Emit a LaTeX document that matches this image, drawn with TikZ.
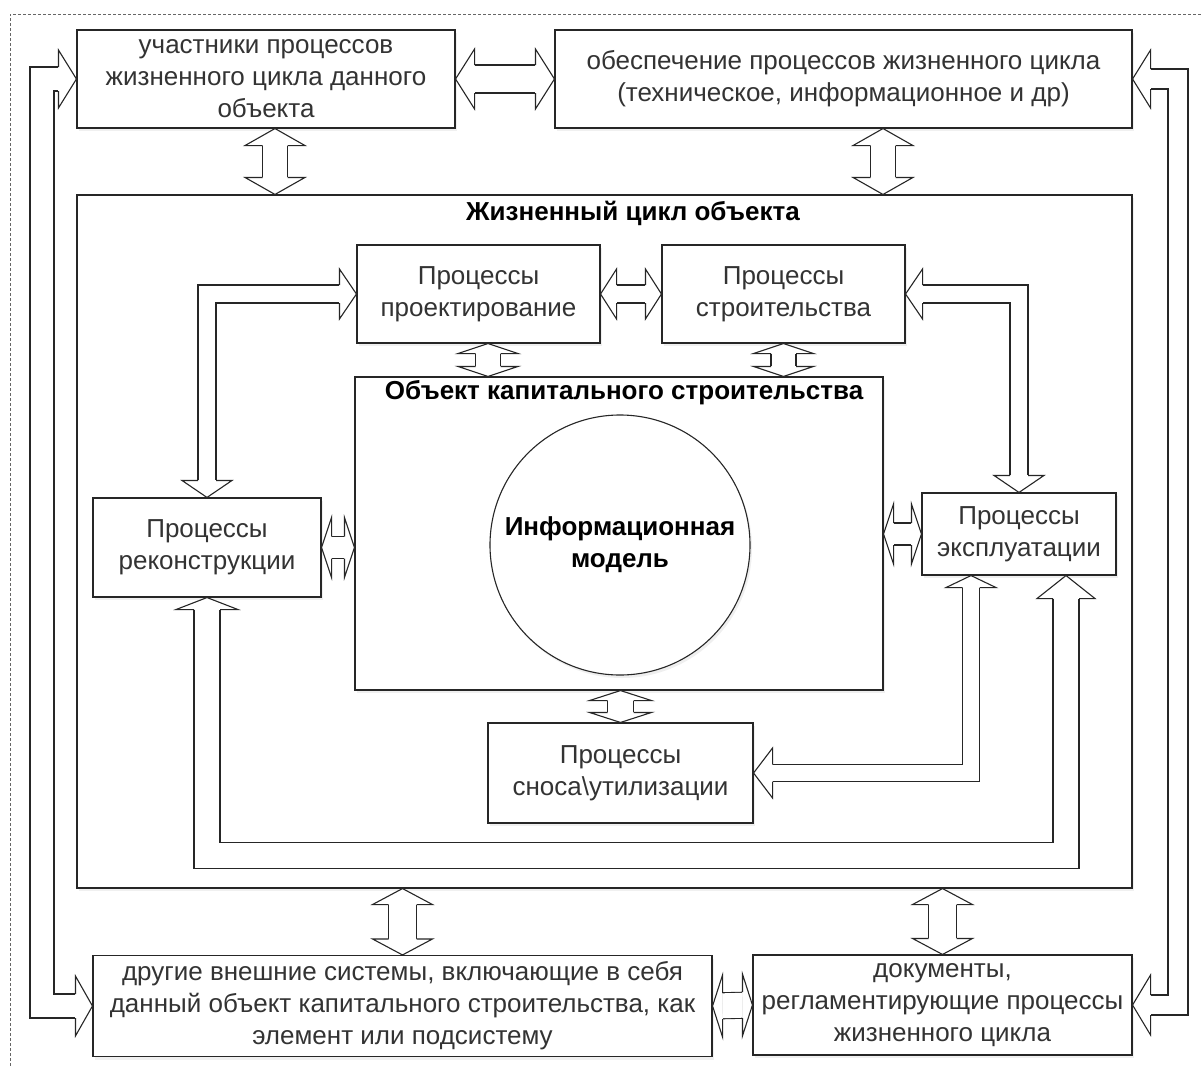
\documentclass[tikz,border=0pt]{standalone}
\usepackage{fontspec}
\setmainfont{Liberation Sans}
\usetikzlibrary{calc,shadows}
\newcommand{\lcfont}{\linespread{1}\fontsize{26}{32}\selectfont}
\tikzset{
    lc/chart/.style={x=1pt, y=-1pt, font=\lcfont, every node/.style={align=center, text=black!80}},
    lc/box/.style={rectangle, draw=black!85, fill=white, line width=1.1pt, inner sep=2pt, drop shadow={opacity=0.12, shadow xshift=2pt, shadow yshift=-3pt}},
    lc/model/.style={lc/box, circle, minimum size=260pt, font=\lcfont\bfseries, text=black},
    lc/title/.style={font=\lcfont\bfseries, text=black, inner sep=0pt},
    lc/border/.style={draw=black!60, line width=0.8pt, dash pattern=on 3pt off 2pt},
    lc/outline/.style={draw=black!85, line width=1.1pt, line join=miter},
    lc/shaft/.style={line width=1.1pt, draw=black!85, double=white, double distance=#1}
}
% hollow arrow head: tip, direction, shaft half-width, head half-width, head length
\newcommand{\lchead}[5]{%
    \begin{scope}[shift={#1}, rotate=#2]
        \fill[white] (-#5,-#4) -- (0,0) -- (-#5,#4) -- cycle;
        \draw[lc/outline] (-#5,-#3) -- (-#5,-#4) -- (0,0) -- (-#5,#4) -- (-#5,#3);
    \end{scope}}
% straight two-headed hollow arrow
\newcommand{\lcdouble}[6]{%
    \pgfmathsetmacro{\lcgap}{2*#4-1.1}
    \draw[lc/shaft=\lcgap pt] ($#1!#6pt!#2$) -- ($#2!#6pt!#1$);
    \lchead{#2}{#3}{#4}{#5}{#6}
    \lchead{#1}{#3+180}{#4}{#5}{#6}}

\begin{document}
\begin{tikzpicture}[lc/chart]
    \useasboundingbox (0,0) rectangle (1203,1066);
    \draw[lc/border] (10,1066) |- (1203,14);

    % outer level
    \node[lc/box, minimum width=378pt, minimum height=98pt] (part) at (266,79) {участники процессов\\жизненного цикла данного\\объекта};
    \node[lc/box, minimum width=577pt, minimum height=98pt] (supp) at (843.5,79) {обеспечение процессов жизненного цикла\\(техническое, информационное и др)};
    \node[lc/box, minimum width=1055pt, minimum height=693pt] (life) at (604.5,541.5) {};
    \node[lc/title] (lifetitle) at (633,213) {Жизненный цикл объекта};
    \node[lc/box, minimum width=619pt, minimum height=101pt] (other) at (402.5,1006) {другие внешние системы, включающие в себя\\данный объект капитального строительства, как\\элемент или подсистему};
    \node[lc/box, minimum width=379pt, minimum height=100pt] (docs) at (942.5,1005) {документы,\\регламентирующие процессы\\жизненного цикла};

    % life cycle stages
    \node[lc/box, minimum width=243pt, minimum height=98pt] (proj) at (478.5,294) {Процессы\\проектирование};
    \node[lc/box, minimum width=243pt, minimum height=98pt] (stroy) at (783.5,294) {Процессы\\строительства};
    \node[lc/box, minimum width=528pt, minimum height=313pt] (obj) at (619,533.5) {};
    \node[lc/title] (objtitle) at (624,393) {Объект капитального строительства};
    \node[lc/model] (model) at (620,545) {Информационная\\модель};
    \node[lc/box, minimum width=228pt, minimum height=99pt] (recon) at (207,547.5) {Процессы\\реконструкции};
    \node[lc/box, minimum width=194pt, minimum height=82pt] (expl) at (1019,534) {Процессы\\эксплуатации};
    \node[lc/box, minimum width=265pt, minimum height=100pt] (snos) at (620.5,773) {Процессы\\сноса\textbackslash утилизации};

    % arrow ends
    \coordinate (pl1) at ($(part.south)+(9,0)$);
    \coordinate (pl2) at (pl1 |- life.north);
    \coordinate (sl1) at ($(supp.south)+(39.5,0)$);
    \coordinate (sl2) at (sl1 |- life.north);
    \coordinate (lo1) at (other.north |- life.south);
    \coordinate (ld1) at (docs.north |- life.south);
    \coordinate (po1) at ($(proj.south)+(9.5,0)$);
    \coordinate (po2) at (po1 |- obj.north);
    \coordinate (so2) at (stroy.south |- obj.north);
    \coordinate (ro) at (recon.east -| obj.west);
    \coordinate (eo) at (expl.west -| obj.east);
    \coordinate (os1) at (snos.north |- obj.south);
    \coordinate (leftrail) at (42,500);
    \coordinate (rightrail) at (1178,500);

    % straight arrows
    \foreach \a/\b/\dir/\s/\h/\l in {part.east/supp.west/0/14/30/19, pl1/pl2/270/12.5/30/17, sl1/sl2/270/12.5/30/17,
        lo1/other.north/270/14/30/16, ld1/docs.north/270/14/30/16, other.east/docs.west/0/13/31/10,
        proj.east/stroy.west/0/9/25/16, po1/po2/270/12.5/30/10, stroy.south/so2/270/12.5/30/10,
        recon.east/ro/0/11/30/10, eo/expl.west/0/11/30/10, os1/snos.north/270/13/31/10}
        \lcdouble{(\a)}{(\b)}{\dir}{\s}{\h}{\l};

    % routed arrows
    \draw[lc/shaft=22.9pt] ($(part.west)+(-18,0)$) -| (leftrail) |- ($(other.west)+(-17,0)$);
    \lchead{(part.west)}{0}{12}{29}{18}
    \lchead{(other.west)}{0}{12}{30}{17}
    \draw[lc/shaft=18.9pt] ($(supp.east)+(18,0)$) -| (rightrail) |- ($(docs.east)+(18,0)$);
    \lchead{(supp.east)}{180}{10}{29}{18}
    \lchead{(docs.east)}{180}{10}{30}{18}
    \draw[lc/shaft=16.9pt] ($(proj.west)+(-17,0)$) -| ($(recon.north)+(0,-17)$);
    \lchead{(proj.west)}{0}{9}{25}{17}
    \lchead{(recon.north)}{270}{9}{25}{17}
    \draw[lc/shaft=16.9pt] ($(stroy.east)+(17,0)$) -| ($(expl.north)+(0,-17)$);
    \lchead{(stroy.east)}{180}{9}{25}{17}
    \lchead{(expl.north)}{270}{9}{25}{17}
    \draw[lc/shaft=15.9pt] ($(expl.south)+(-48,12)$) |- ($(snos.east)+(19,0)$);
    \lchead{($(expl.south)+(-48,0)$)}{90}{8.5}{25}{12}
    \lchead{(snos.east)}{180}{8.5}{25}{19}
    \draw[lc/shaft=24.9pt] ($(recon.south)+(0,12)$) -- ++(0,246) -| ($(expl.south)+(47,23)$);
    \lchead{(recon.south)}{90}{13}{31}{12}
    \lchead{($(expl.south)+(47,0)$)}{90}{13}{29}{23}
\end{tikzpicture}
\end{document}
